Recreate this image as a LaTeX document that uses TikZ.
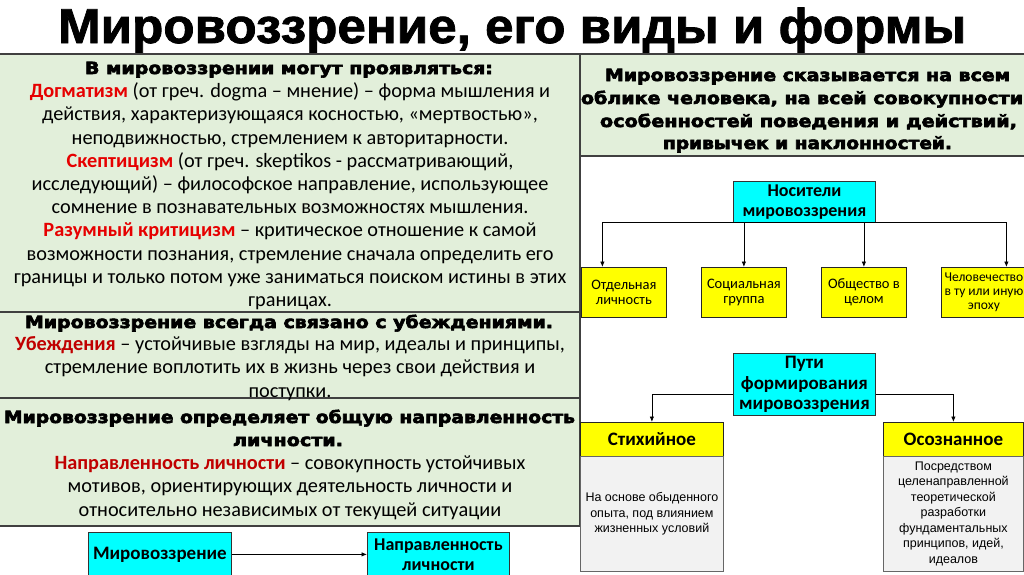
\documentclass[tikz,border=0pt]{standalone}
\usepackage{fontspec}
\setmainfont{Carlito}
\newfontfamily\arialf{Liberation Sans}
\newfontfamily\titlef[FakeBold=1.5]{Liberation Sans Bold}
\newfontfamily\heavyf[FakeBold=3.5]{DejaVu Sans Bold}
\usetikzlibrary{arrows.meta,calc}
\definecolor{bggreen}{HTML}{E2EFDA}
\definecolor{cyanbox}{HTML}{00FFFF}
\definecolor{yelbox}{HTML}{FFFF00}
\definecolor{graybody}{HTML}{F2F2F2}
\definecolor{redw}{HTML}{E60000}
\definecolor{dredw}{HTML}{C00000}
\definecolor{framegray}{HTML}{404040}
\newcommand{\fitw}[2]{\resizebox{#1}{\height}{#2}}
\newcommand{\rw}[1]{\textbf{\textcolor{redw}{#1}}}
\newcommand{\dw}[1]{\textbf{\textcolor{dredw}{#1}}}
\begin{document}
\begin{tikzpicture}[x=1pt,y=-1pt,
 panel/.style={fill=bggreen,draw=framegray,line width=1.3pt},
 hd/.style={anchor=base,inner sep=0,font=\heavyf\fontsize{16.8}{20}\selectfont},
 bodytxt/.style={anchor=north,inner sep=0,align=center,font=\fontsize{20.3}{23.2}\selectfont},
 cbox/.style={fill=cyanbox,draw=black!80,line width=0.8pt,inner sep=0,align=center,anchor=north west,font=\bfseries\fontsize{18}{20}\selectfont},
 ybox/.style={fill=yelbox,draw=black!85,line width=0.8pt,inner sep=0,align=center,minimum width=85pt,minimum height=50pt,anchor=north west,font=\fontsize{14.5}{15}\selectfont},
 yhead/.style={fill=yelbox,draw=black!85,line width=0.8pt,inner sep=0,anchor=north west,font=\bfseries\fontsize{19}{21}\selectfont},
 gbody/.style={fill=graybody,draw=black!60,line width=0.8pt,inner sep=0,align=center,anchor=north west,font=\arialf\fontsize{12.5}{15.5}\selectfont},
 arr/.style={-{Latex[length=5.5pt,width=4.5pt]},line width=0.8pt},
]
\useasboundingbox (0,0) rectangle (1024,574);
\fill[white] (0,0) rectangle (1024,574);

% title
\node[anchor=base,inner sep=0,font=\titlef\fontsize{49}{55}\selectfont] (title) at (512,43) {\fitw{908pt}{Мировоззрение, его виды и формы}};

% panels
\draw[panel] (-2,54) rectangle (580,312);
\draw[panel] (-2,312) rectangle (580,398);
\draw[panel] (-2,398) rectangle (580,526);
\draw[panel] (580,54) rectangle (1030,156);

% box 1
\node[hd] (h1) at (289,74) {\fitw{408pt}{В мировоззрении могут проявляться:}};
\node[bodytxt] (t1) at (290,81.26) {\strut\rw{Догматизм} (от греч. dogma – мнение) – форма мышления и\\
действия, характеризующаяся косностью, «мертвостью»,\\
неподвижностью, стремлением к авторитарности.\\
\rw{Скептицизм} (от греч. skeptikos - рассматривающий,\\
исследующий) – философское направление, использующее\\
сомнение в познавательных возможностях мышления.\\
\rw{Разумный критицизм} – критическое отношение к самой\\
возможности познания, стремление сначала определить его\\
границы и только потом уже заниматься поиском истины в этих\\
границах.};

% box 2
\node[hd] (h2) at (289,328) {\fitw{528pt}{Мировоззрение всегда связано с убеждениями.}};
\node[bodytxt] (t2) at (290,334.26) {\strut\dw{Убеждения} – устойчивые взгляды на мир, идеалы и принципы,\\
стремление воплотить их в жизнь через свои действия и\\
поступки.};

% box 3
\node[hd] (h3a) at (289.5,423) {\fitw{571pt}{Мировоззрение определяет общую направленность}};
\node[hd] (h3b) at (288,446) {\fitw{110pt}{личности.}};
\node[bodytxt] (t3) at (290,453.26) {\strut\dw{Направленность личности} – совокупность устойчивых\\
мотивов, ориентирующих деятельность личности и\\
относительно независимых от текущей ситуации};

% right heading
\node[hd] (r1) at (807.5,81) {\fitw{405pt}{Мировоззрение сказывается на всем}};
\node[hd] (r2) at (802,104) {\fitw{442pt}{облике человека, на всей совокупности}};
\node[hd] (r3) at (808.5,127) {\fitw{417pt}{особенностей поведения и действий,}};
\node[hd] (r4) at (807.5,149) {\fitw{289pt}{привычек и наклонностей.}};

% carriers
\node[cbox,minimum width=142pt,minimum height=41pt] (nos) at (733,181) {Носители\\мировоззрения};
\node[ybox] (y1) at (581,267) {Отдельная\\личность};
\node[ybox] (y2) at (701,267) {Социальная\\группа};
\node[ybox] (y3) at (821,267) {Общество в\\целом};
\node[ybox,font=\fontsize{13.5}{14}\selectfont] (y4) at (941,267) {Человечество\\в ту или иную\\эпоху};
\draw[arr] (nos.south) -| ([xshift=-21.5pt]y1.north);
\draw[arr] (nos.south) -| (y2.north);
\draw[arr] (nos.south) -| (y3.north);
\draw[arr] (nos.south) -| ([xshift=22.5pt]y4.north);

% ways
\node[cbox,minimum width=142pt,minimum height=62pt,font=\bfseries\fontsize{19}{20.5}\selectfont] (put) at (733,353) {Пути\\формирования\\мировоззрения};
\node[yhead,minimum width=143pt,minimum height=34pt] (st) at (580,422) {Стихийное};
\node[gbody,minimum width=143pt,minimum height=115pt] (stb) at (580,456) {На основе обыденного\\опыта, под влиянием\\жизненных условий};
\node[yhead,minimum width=140pt,minimum height=34pt] (os) at (883,422) {Осознанное};
\node[gbody,minimum width=140pt,minimum height=115pt] (osb) at (883,456) {Посредством\\целенаправленной\\теоретической\\разработки\\фундаментальных\\принципов, идей,\\идеалов};
\coordinate (lvl) at (0,394);
\draw[arr] (put.west |- lvl) -| (st.north);
\draw[arr] (put.east |- lvl) -| (os.north);

% bottom
\node[cbox,minimum width=143pt,minimum height=44pt,font=\bfseries\fontsize{19}{20}\selectfont] (mv) at (88,532) {Мировоззрение};
\node[cbox,minimum width=142pt,minimum height=44pt,font=\bfseries\fontsize{18}{20}\selectfont] (np) at (367,532) {Направленность\\личности};
\draw[arr] (mv.east) -- (np.west);
\end{tikzpicture}
\end{document}
